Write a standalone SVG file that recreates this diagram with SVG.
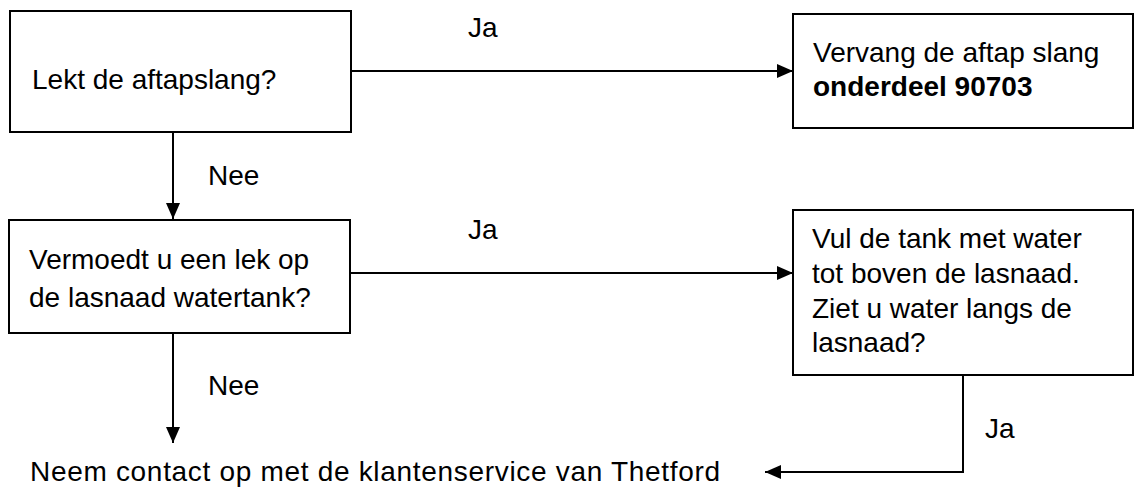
<svg xmlns="http://www.w3.org/2000/svg" width="1136" height="488" viewBox="0 0 1136 488">
<style>
.box{fill:#fff;stroke:#000;stroke-width:2}
.t{font-family:"Liberation Sans",Arial,sans-serif;font-size:28px;fill:#000}
.b{font-weight:bold}
.c{fill:none;stroke:#000;stroke-width:2}
</style>
<defs>
<marker id="ah" markerUnits="userSpaceOnUse" markerWidth="18" markerHeight="16" refX="16" refY="7" orient="auto">
<path d="M0,0 L16,7 L0,14 Z" fill="#000"/>
</marker>
</defs>
<rect width="1136" height="488" fill="#fff"/>
<g id="connectors">
<line class="c" x1="351" y1="71" x2="793" y2="71" marker-end="url(#ah)"/>
<line class="c" x1="173" y1="132" x2="173" y2="219" marker-end="url(#ah)"/>
<line class="c" x1="350" y1="273" x2="793" y2="273" marker-end="url(#ah)"/>
<line class="c" x1="173" y1="333" x2="173" y2="443" marker-end="url(#ah)"/>
<polyline class="c" points="963,375 963,472 765,472" marker-end="url(#ah)"/>
<text class="t" x="468" y="37">Ja</text>
<text class="t" x="208" y="185">Nee</text>
<text class="t" x="468" y="239">Ja</text>
<text class="t" x="208" y="395">Nee</text>
<text class="t" x="985" y="438">Ja</text>
</g>
<g id="n1">
<rect class="box" x="10" y="11" width="341" height="121"/>
<text class="t" x="32" y="89">Lekt de aftapslang?</text>
</g>
<g id="n2">
<rect class="box" x="793" y="14" width="340" height="114"/>
<text class="t" x="813" y="62">Vervang de aftap slang</text>
<text class="t b" x="813" y="96">onderdeel 90703</text>
</g>
<g id="n3">
<rect class="box" x="9" y="220" width="341" height="113"/>
<text class="t" x="29" y="269">Vermoedt u een lek op</text>
<text class="t" x="29" y="307">de lasnaad watertank?</text>
</g>
<g id="n4">
<rect class="box" x="793" y="210" width="340" height="165"/>
<text class="t" x="812" y="248">Vul de tank met water</text>
<text class="t" x="812" y="283">tot boven de lasnaad.</text>
<text class="t" x="812" y="318">Ziet u water langs de</text>
<text class="t" x="812" y="352">lasnaad?</text>
</g>
<g id="n5">
<text class="t" x="30" y="481" textLength="690" lengthAdjust="spacing">Neem contact op met de klantenservice van Thetford</text>
</g>
</svg>
